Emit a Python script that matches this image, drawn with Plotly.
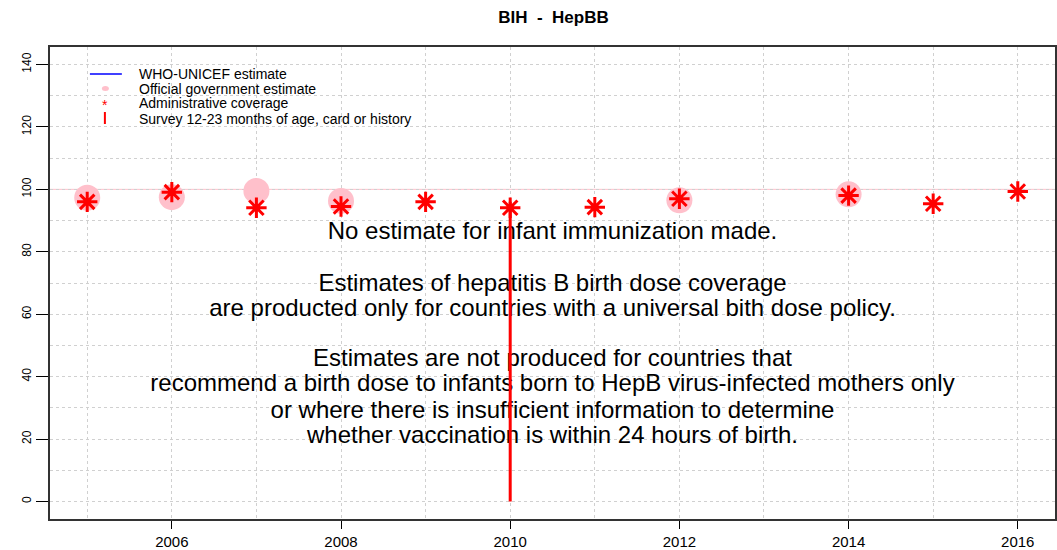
import plotly.graph_objects as go

# ---- data ----
years = [2005, 2006, 2007, 2008, 2009, 2010, 2011, 2012, 2013, 2014, 2015, 2016]
admin_coverage = [96.0, 99.1, 94.1, 94.5, 96.0, 94.1, 94.3, 97.0, None, 98.0, 95.4, 99.3]
official_estimate = [97.3, 97.5, 99.5, 96.3, None, None, None, 96.5, None, 98.4, None, None]
who_unicef_estimate = [None] * 12
survey_years = [2010]
survey_values = [96.0]

x_tick_vals = [2006, 2008, 2010, 2012, 2014, 2016]
y_tick_vals = [0, 20, 40, 60, 80, 100, 120, 140]

title_text = "BIH  -  HepBB"
message_lines = [
    "No estimate for infant immunization made.",
    "Estimates of hepatitis B birth dose coverage",
    "are producted only for countries with a universal bith dose policy.",
    "Estimates are not produced for countries that",
    "recommend a birth dose to infants born to HepB virus-infected mothers only",
    "or where there is insufficient information to determine",
    "whether vaccination is within 24 hours of birth.",
]
message_y = [85.9, 69.5, 61.5, 45.2, 37.2, 28.8, 20.8]
message_x = 2010.5

legend_labels = [
    "WHO-UNICEF estimate",
    "Official government estimate",
    "Administrative coverage",
    "Survey 12-23 months of age, card or history",
]

FONT = "Liberation Sans, Arial, sans-serif"
GRID = "#d0d0d0"

fig = go.Figure()

# message text (drawn first so the survey line sits on top)
fig.add_trace(go.Scatter(
    x=[message_x] * len(message_lines), y=message_y, text=message_lines,
    mode="text", textposition="middle center",
    textfont=dict(family=FONT, size=24, color="#000000"),
    showlegend=False, hoverinfo="skip",
))

# reference line at 100
fig.add_hline(y=100, line=dict(color="#FFC0CB", width=1), layer="below")

# WHO-UNICEF estimate (no values)
fig.add_trace(go.Scatter(x=years, y=who_unicef_estimate, mode="lines",
                         line=dict(color="#0000FF", width=1), showlegend=False))

# official government estimate
fig.add_trace(go.Scatter(x=years, y=official_estimate, mode="markers",
                         marker=dict(color="#FFC0CB", size=26, symbol="circle"),
                         showlegend=False))

# survey
sx, sy = [], []
for yr, v in zip(survey_years, survey_values):
    sx += [yr, yr, None]
    sy += [0, v, None]
fig.add_trace(go.Scatter(x=sx, y=sy, mode="lines",
                         line=dict(color="#FF0000", width=3), showlegend=False))

# administrative coverage
fig.add_trace(go.Scatter(x=years, y=admin_coverage, mode="markers",
                         marker=dict(symbol="asterisk-open", size=17, color="#FF0000",
                                     line=dict(color="#FF0000", width=3)),
                         showlegend=False))

# ---- manual legend (paper coords) ----
L, R_, T, B = 50, 1057, 47, 519
def px(xp):
    return (xp - L) / (R_ - L)
def py(yp):
    return (B - yp) / (B - T)

rows = [73.5, 88.5, 103.5, 118.5]
for lab, ry in zip(legend_labels, rows):
    fig.add_annotation(x=px(137), y=py(ry), xref="paper", yref="paper",
                       text=lab, showarrow=False, xanchor="left", yanchor="middle",
                       font=dict(family=FONT, size=14, color="#000000"))
fig.add_shape(type="line", xref="paper", yref="paper",
              x0=px(90), x1=px(122), y0=py(74), y1=py(74),
              line=dict(color="#0000FF", width=1.5))
fig.add_shape(type="circle", xref="paper", yref="paper",
              x0=px(102), x1=px(109), y0=py(91), y1=py(86),
              fillcolor="#FFC0CB", line=dict(width=0))
fig.add_annotation(x=px(105.5), y=py(105), xref="paper", yref="paper",
                   text="*", showarrow=False, xanchor="center", yanchor="middle",
                   font=dict(family=FONT, size=14, color="#FF0000"))
fig.add_shape(type="line", xref="paper", yref="paper",
              x0=px(105), x1=px(105), y0=py(112), y1=py(124),
              line=dict(color="#FF0000", width=2))

fig.update_layout(
    width=1057, height=550,
    margin=dict(l=50, r=0, t=47, b=31),
    paper_bgcolor="white", plot_bgcolor="white",
    font=dict(family=FONT, color="#000000"),
    title=dict(text="<b>" + title_text + "</b>", x=(L + R_) / 2 / 1057, xanchor="center",
               y=1 - 17 / 550, yanchor="middle",
               font=dict(family=FONT, size=17, color="#000000")),
    showlegend=False,
)
fig.update_xaxes(
    range=[2004.56, 2016.44], tickvals=x_tick_vals,
    ticks="outside", ticklen=8, tickwidth=1, tickcolor="#000000",
    tickfont=dict(family=FONT, size=15, color="#000000"),
    showgrid=True, gridcolor=GRID, griddash="dot", gridwidth=1,
    minor=dict(dtick=1, tick0=2005, showgrid=True, gridcolor=GRID, griddash="dot", ticks=""),
    showline=True, mirror=True, linecolor="#333333", linewidth=2, zeroline=False,
)
fig.update_yaxes(
    range=[-5.6, 145.6], tickvals=y_tick_vals, tickangle=-90,
    ticks="outside", ticklen=12, tickwidth=1, tickcolor="#000000",
    tickfont=dict(family=FONT, size=12, color="#000000"),
    showgrid=True, gridcolor=GRID, griddash="dot", gridwidth=1,
    minor=dict(dtick=10, tick0=0, showgrid=True, gridcolor=GRID, griddash="dot", ticks=""),
    showline=True, mirror=True, linecolor="#333333", linewidth=2, zeroline=False,
)

fig.write_html("out.html", config={"displayModeBar": False},
               post_script="document.body.style.margin='0';document.body.style.overflow='hidden';")
